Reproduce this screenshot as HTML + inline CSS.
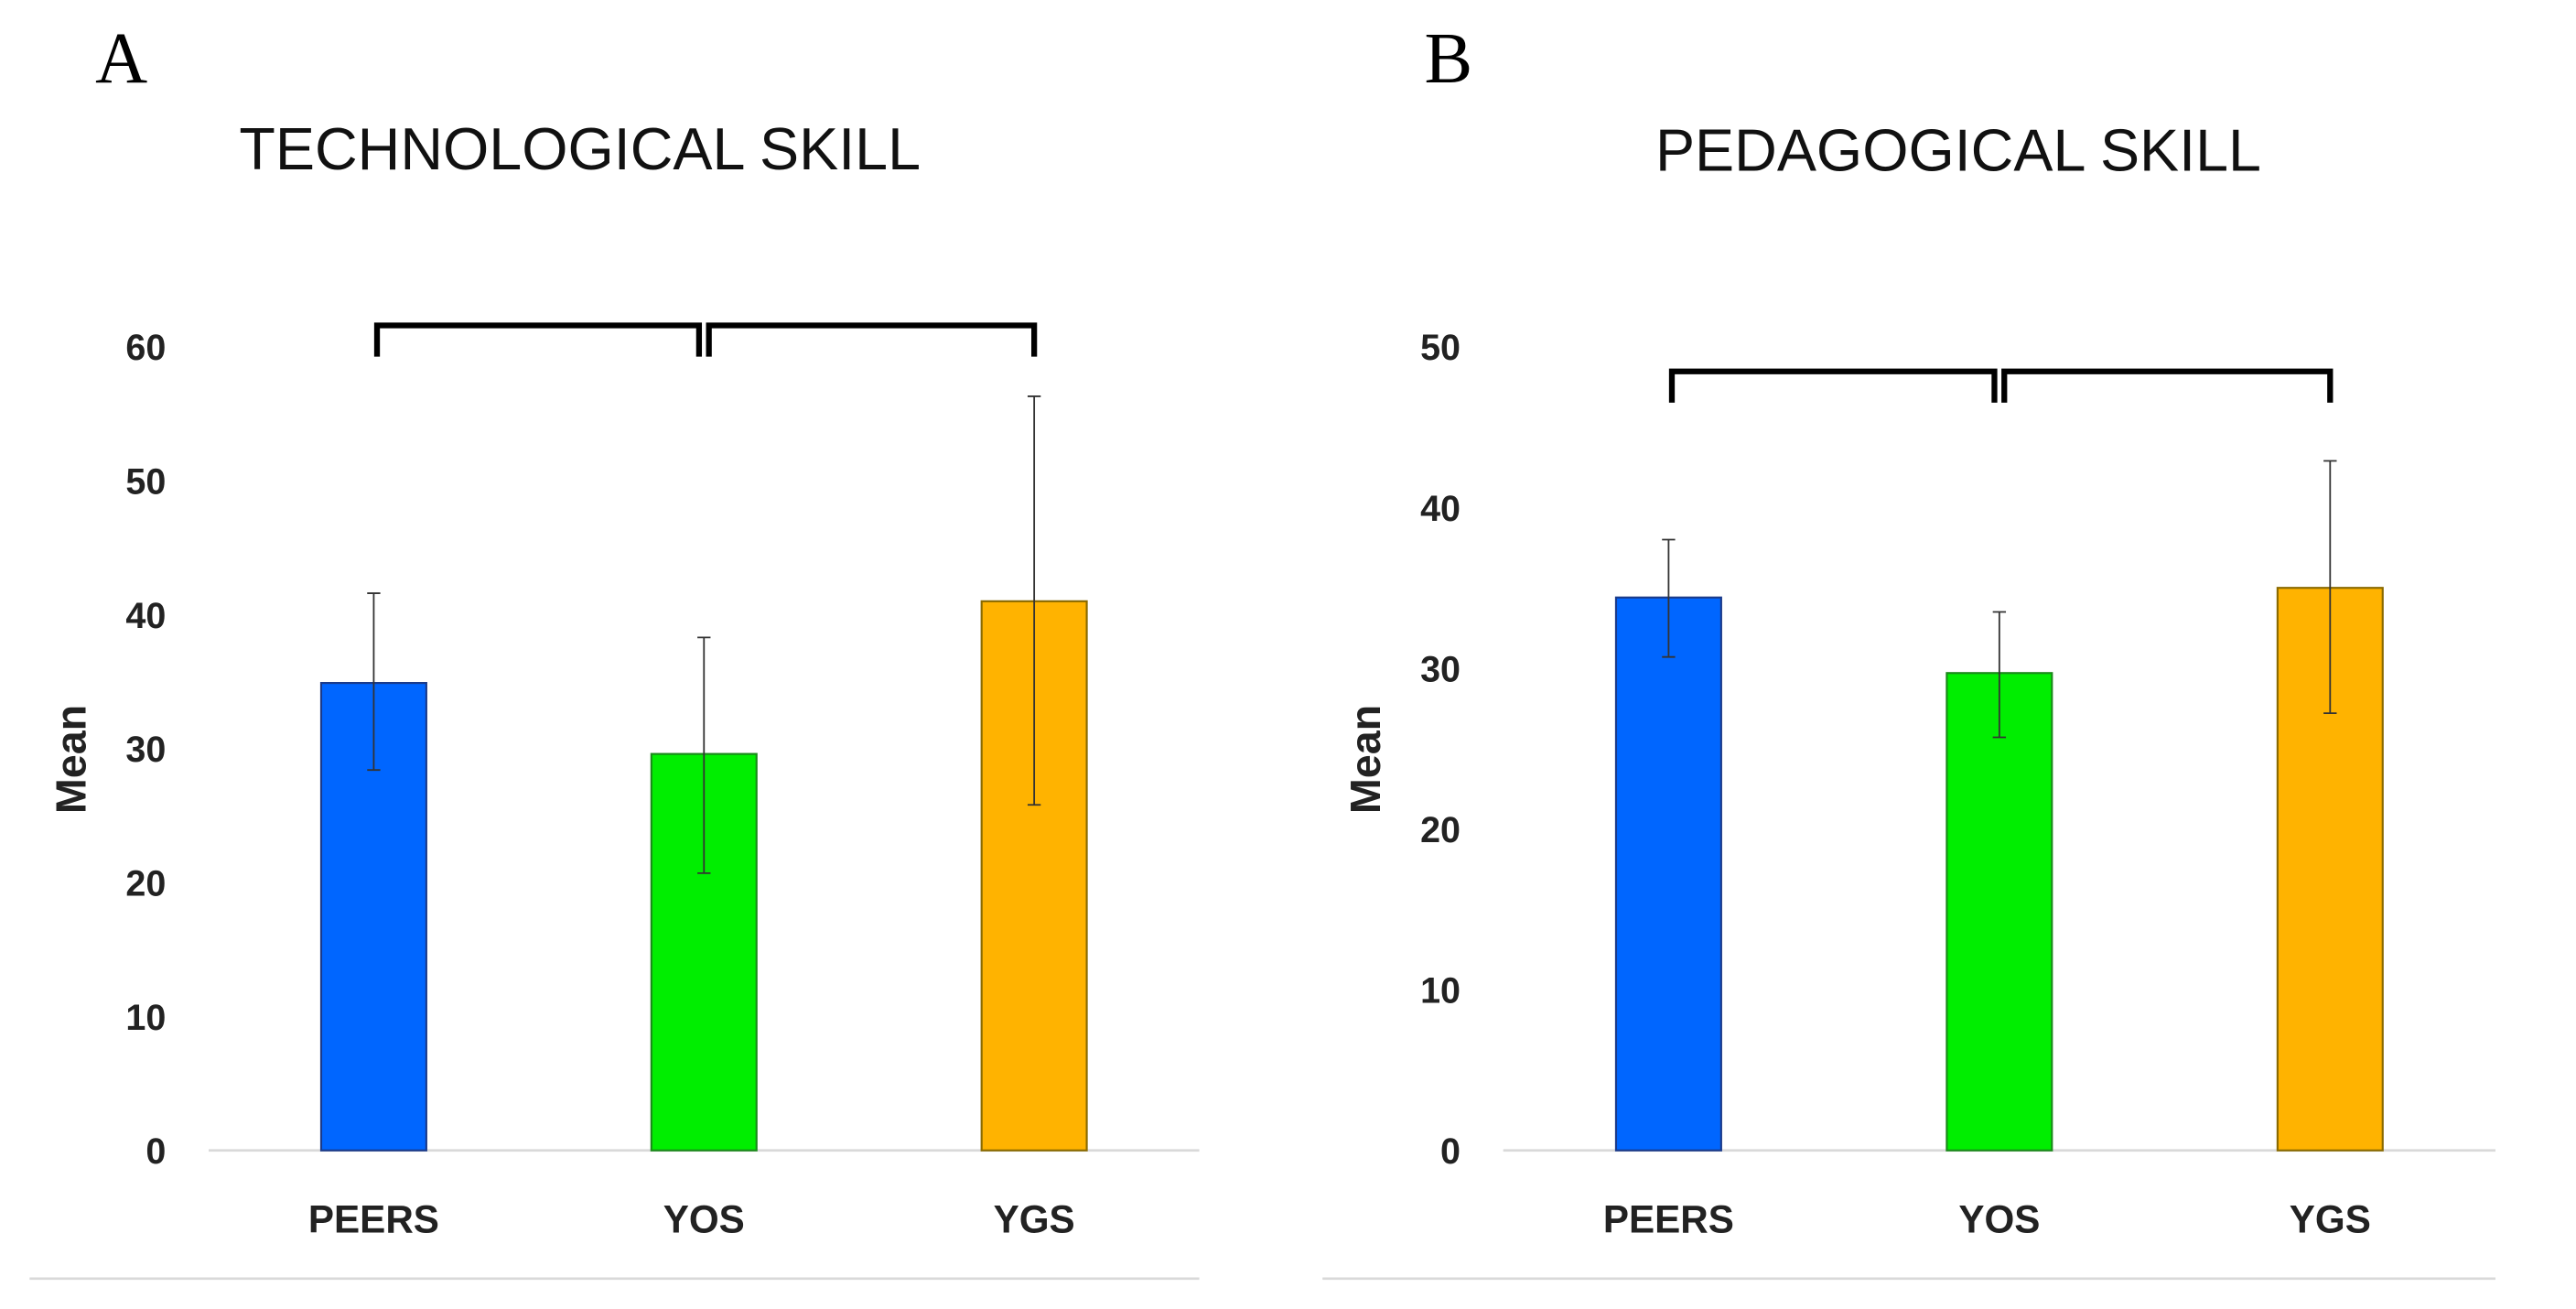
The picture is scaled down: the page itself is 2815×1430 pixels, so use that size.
<!DOCTYPE html>
<html><head><meta charset="utf-8"><style>
html,body{margin:0;padding:0;background:#fff;}
svg{display:block;}
</style></head><body>
<svg id="fig" width="2815" height="1430" viewBox="0 0 1568 796.5" preserveAspectRatio="none" xmlns="http://www.w3.org/2000/svg" font-family="Liberation Sans, sans-serif">
<rect width="1568" height="796.5" fill="#fff"/>
<text x="58" y="50" font-family="Liberation Serif, serif" font-size="44">A</text>
<text x="867" y="50" font-family="Liberation Serif, serif" font-size="44">B</text>
<text x="353" y="103" text-anchor="middle" font-size="36" fill="#111">TECHNOLOGICAL SKILL</text>
<text x="1192" y="104" text-anchor="middle" font-size="36" fill="#111">PEDAGOGICAL SKILL</text>
<g id="chartA"></g>
<g id="chartB"></g>
</svg>
<script>
const categories = ["PEERS", "YOS", "YGS"];
const colors = ["#0066ff", "#00ee00", "#ffb300"];
const strokes = ["#1a3a8a", "#1a8a1a", "#8a6a00"];
const techMeans = [34.9, 29.6, 41.0];
const techErrLow = [28.4, 20.7, 25.8];
const techErrHigh = [41.6, 38.3, 56.3];
const techTicks = [0, 10, 20, 30, 40, 50, 60];
const pedMeans = [34.4, 29.7, 35.0];
const pedErrLow = [30.7, 25.7, 27.2];
const pedErrHigh = [38.0, 33.5, 42.9];
const pedTicks = [0, 10, 20, 30, 40, 50];

const NS = "http://www.w3.org/2000/svg";
function mk(parent, tag, attrs, text){
  const e = document.createElementNS(NS, tag);
  for (const k in attrs) e.setAttribute(k, attrs[k]);
  if (text !== undefined) e.textContent = text;
  parent.appendChild(e);
  return e;
}
function drawChart(g, cfg, means, lo, hi, ticks, id){
  const yMax = ticks[ticks.length-1];
  const y = v => cfg.y0 - (v / yMax) * (cfg.y0 - cfg.yTop);
  const step = (cfg.x1 - cfg.x0) / categories.length;
  const xc = i => cfg.x0 + step * (i + 0.5);
  const bw = 64;
  ticks.forEach(t => {
    const tl = mk(g, "text", {x: cfg.tickX, y: y(t) + 8, "text-anchor": "end", "font-size": 22, "font-weight": "bold", fill: "#222"}, String(t));
    
    
  });
  const ax = mk(g, "line", {x1: cfg.x0, x2: cfg.x1, y1: cfg.y0, y2: cfg.y0, stroke: "#d9d9d9", "stroke-width": 1.5});
  
  
  const sep = mk(g, "line", {x1: cfg.sepX0, x2: cfg.x1, y1: 778, y2: 778, stroke: "#d9d9d9", "stroke-width": 1.5});
  
  
  const yt = mk(g, "text", {x: 0, y: 0, transform: "translate(" + (cfg.tickX - 49) + "," + (cfg.y0 - 238) + ") rotate(-90)", "text-anchor": "middle", "font-size": 26, "font-weight": "bold", fill: "#222"}, "Mean");
  
  
  categories.forEach((c, i) => {
    const b = mk(g, "rect", {x: xc(i) - bw/2, y: y(means[i]), width: bw, height: y(0) - y(means[i]), fill: colors[i], stroke: strokes[i], "stroke-width": 1.2});
    
    
    const e = mk(g, "path", {d: "M" + (xc(i)-4) + "," + y(hi[i]) + "h8M" + xc(i) + "," + y(hi[i]) + "V" + y(lo[i]) + "M" + (xc(i)-4) + "," + y(lo[i]) + "h8", stroke: "#333", "stroke-width": 1, fill: "none"});
    
    
    const l = mk(g, "text", {x: xc(i), y: 750, "text-anchor": "middle", "font-size": 23.5, "font-weight": "bold", fill: "#222"}, c);
    
    
  });
  const by = cfg.brY, bl = by + 19;
  const br1 = mk(g, "path", {d: "M" + (xc(0)+2) + "," + bl + "V" + by + "H" + (xc(1)-3) + "V" + bl, stroke: "#000", "stroke-width": 3.5, fill: "none"});
  
  
  const br2 = mk(g, "path", {d: "M" + (xc(1)+3) + "," + bl + "V" + by + "H" + (xc(2)) + "V" + bl, stroke: "#000", "stroke-width": 3.5, fill: "none"});
  
  
}
drawChart(document.getElementById("chartA"), {x0: 127, x1: 730, y0: 700, yTop: 211, tickX: 101, sepX0: 18, brY: 198}, techMeans, techErrLow, techErrHigh, techTicks, "tech");
drawChart(document.getElementById("chartB"), {x0: 915, x1: 1519, y0: 700, yTop: 211, tickX: 889, sepX0: 805, brY: 226}, pedMeans, pedErrLow, pedErrHigh, pedTicks, "ped");
</script>
</body></html>
